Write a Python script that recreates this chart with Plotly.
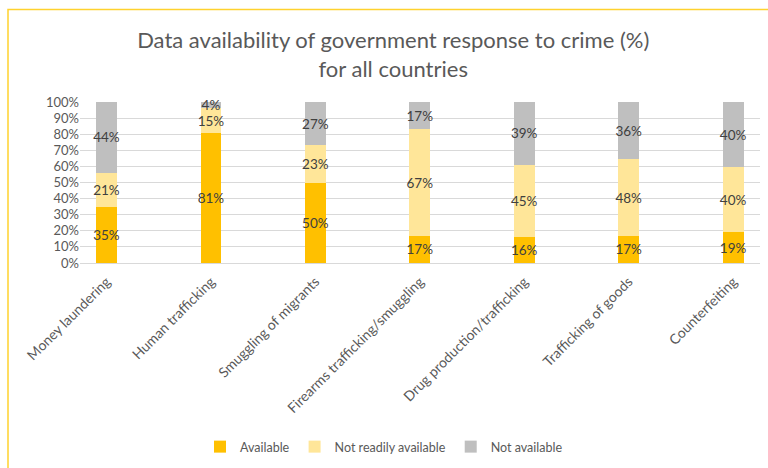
import plotly.graph_objects as go

categories = ["Money laundering", "Human trafficking", "Smuggling of migrants",
              "Firearms trafficking/smuggling", "Drug production/trafficking",
              "Trafficking of goods", "Counterfeiting"]
available = [35, 81, 50, 17, 16, 17, 19]
not_readily = [21, 15, 23, 67, 45, 48, 40]
not_available = [44, 4, 27, 17, 39, 36, 40]

series = [("Available", available, "#FFC000"),
          ("Not readily available", not_readily, "#FFE699"),
          ("Not available", not_available, "#BFBFBF")]

FONT = "Lato"
fig = go.Figure()
for name, vals, color in series:
    fig.add_trace(go.Bar(
        x=categories, y=vals, name=name, marker_color=color,
        marker_line_width=0, width=0.2,
        text=[f"{v}%" for v in vals], textposition="inside",
        insidetextanchor="middle", constraintext="none", textangle=0,
        textfont=dict(family=FONT, size=13.5, color="#404040"),
        cliponaxis=False,
    ))

W, H = 768, 468
L, R, T, B = 80, 760, 102, 264
pw, ph = R - L, B - T

def px(x):
    return (x - L) / pw

def py(y):
    return (B - y) / ph

fig.update_layout(
    width=W, height=H,
    barmode="stack", barnorm="percent",
    margin=dict(l=L, r=W - R, t=T, b=H - B, pad=0),
    paper_bgcolor="white", plot_bgcolor="white",
    font=dict(family=FONT, color="#595959", size=13),
    title=dict(text="Data availability of government response to crime (%)<br>for all countries",
               x=0.512, xanchor="center", y=1 - 48 / H, yanchor="middle",
               font=dict(family=FONT, size=22, color="#595959")),
    xaxis=dict(range=[-0.254, 6.257], tickangle=-45, showgrid=False,
               showline=True, linecolor="#D9D9D9", linewidth=1,
               ticks="outside", ticklen=4, tickcolor="rgba(0,0,0,0)",
               tickfont=dict(size=14, color="#595959")),
    yaxis=dict(range=[0, 100], dtick=10, ticksuffix="%", showgrid=True,
               gridcolor="#D9D9D9", gridwidth=1, zeroline=False,
               ticks="", tickfont=dict(size=13, color="#595959")),
    legend=dict(orientation="h", x=px(384), xanchor="center", y=py(447),
                yanchor="middle", font=dict(size=12.5, color="#595959"),
                traceorder="normal"),
    shapes=[dict(type="rect", xref="paper", yref="paper",
                 x0=px(8), x1=px(780), y0=py(480), y1=py(9),
                 line=dict(color="#FFD22E", width=1.5), layer="below")],
)

fig.write_html("out.html", config={"displayModeBar": False},
               post_script="document.body.style.margin='0';document.body.style.overflow='hidden';")
